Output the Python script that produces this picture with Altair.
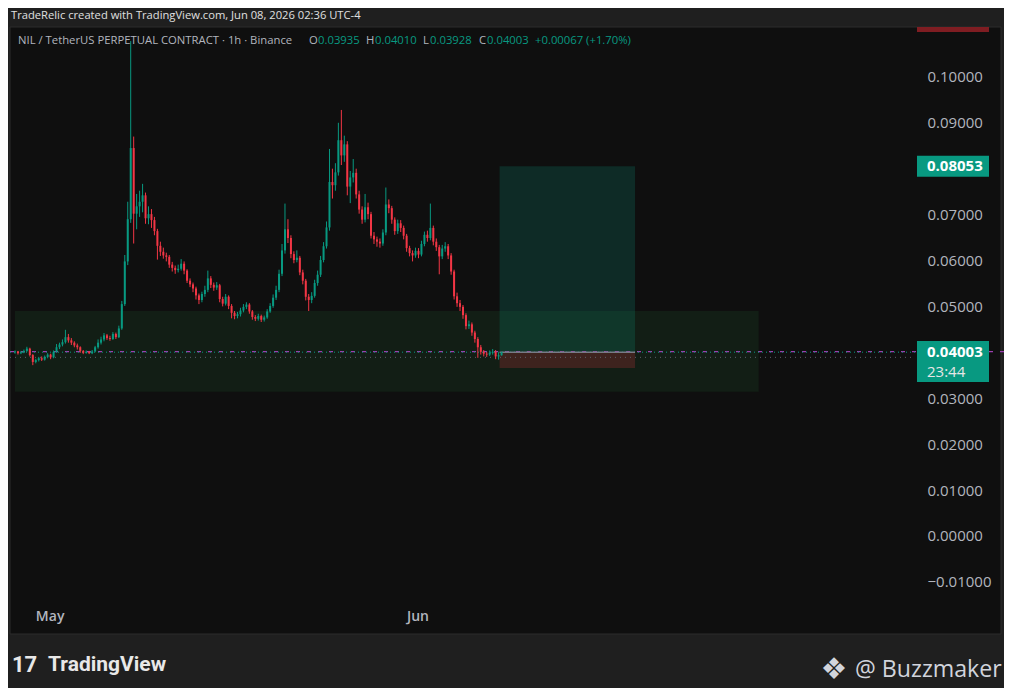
import altair as alt
import pandas as pd

# ---------------- data ----------------
first_open = 0.0400
closes = [0.0402,0.0398,0.0400,0.0403,0.0408,0.0394,0.0379,0.0383,0.0387,0.0384,
0.0390,0.0395,0.0389,0.0401,0.0411,0.0417,0.0422,0.0433,0.0426,0.0421,
0.0415,0.0411,0.0403,0.0399,0.0401,0.0398,0.0402,0.0411,0.0421,0.0428,
0.0437,0.0431,0.0429,0.0440,0.0433,0.0452,0.0505,0.0598,0.0690,0.0845,
0.0702,0.0718,0.0728,0.0742,0.0692,0.0701,0.0688,0.0664,0.0632,0.0619,
0.0611,0.0608,0.0591,0.0584,0.0579,0.0582,0.0593,0.0578,0.0556,0.0548,
0.0539,0.0524,0.0514,0.0527,0.0536,0.0561,0.0547,0.0541,0.0546,0.0516,
0.0506,0.0521,0.0501,0.0486,0.0479,0.0483,0.0491,0.0499,0.0504,0.0489,
0.0477,0.0473,0.0479,0.0471,0.0476,0.0489,0.0501,0.0519,0.0536,0.0571,
0.0622,0.0668,0.0649,0.0614,0.0601,0.0606,0.0574,0.0556,0.0521,0.0514,
0.0523,0.0551,0.0569,0.0601,0.0631,0.0672,0.0771,0.0764,0.0792,0.0862,
0.0829,0.0853,0.0761,0.0781,0.0791,0.0744,0.0711,0.0689,0.0716,0.0701,
0.0654,0.0646,0.0641,0.0637,0.0661,0.0722,0.0714,0.0689,0.0664,0.0681,
0.0671,0.0654,0.0627,0.0616,0.0611,0.0621,0.0613,0.0636,0.0656,0.0649,
0.0671,0.0641,0.0629,0.0609,0.0626,0.0631,0.0611,0.0576,0.0522,0.0507,
0.0499,0.0481,0.0457,0.0461,0.0443,0.0429,0.0411,0.0401,0.0397,0.0395,
0.0399,0.0401,0.0391,0.03935,0.04003]
highs = [0.0404,0.0403,0.0403,0.0406,0.0412,0.0410,0.0396,0.0386,0.0390,0.0391,
0.0393,0.0398,0.0397,0.0404,0.0418,0.0421,0.0428,0.0449,0.0440,0.0431,
0.0424,0.0419,0.0413,0.0405,0.0404,0.0403,0.0405,0.0414,0.0428,0.0434,
0.0442,0.0440,0.0436,0.0444,0.0443,0.0458,0.0512,0.0612,0.0728,0.1078,
0.0870,0.0745,0.0752,0.0767,0.0748,0.0718,0.0712,0.0695,0.0669,0.0641,
0.0628,0.0617,0.0612,0.0597,0.0589,0.0591,0.0603,0.0598,0.0581,0.0561,
0.0552,0.0543,0.0528,0.0532,0.0545,0.0578,0.0566,0.0552,0.0553,0.0549,
0.0521,0.0527,0.0524,0.0505,0.0490,0.0488,0.0497,0.0505,0.0509,0.0507,
0.0492,0.0481,0.0484,0.0482,0.0480,0.0494,0.0507,0.0526,0.0545,0.0580,
0.0636,0.0724,0.0690,0.0655,0.0620,0.0622,0.0610,0.0580,0.0560,0.0527,
0.0531,0.0558,0.0578,0.0610,0.0640,0.0685,0.0843,0.0800,0.0812,0.0900,
0.0928,0.0872,0.0860,0.0795,0.0821,0.0800,0.0752,0.0718,0.0745,0.0726,
0.0706,0.0662,0.0652,0.0648,0.0668,0.0759,0.0733,0.0719,0.0694,0.0689,
0.0688,0.0676,0.0658,0.0632,0.0622,0.0628,0.0627,0.0643,0.0663,0.0665,
0.0724,0.0676,0.0648,0.0634,0.0634,0.0640,0.0636,0.0616,0.0580,0.0530,
0.0514,0.0503,0.0485,0.0469,0.0465,0.0447,0.0433,0.0416,0.0405,0.0401,
0.0404,0.0407,0.0405,0.0399,0.04010]
lows = [0.0397,0.0395,0.0396,0.0398,0.0401,0.0391,0.0372,0.0376,0.0380,0.0381,
0.0382,0.0387,0.0385,0.0387,0.0399,0.0407,0.0413,0.0419,0.0421,0.0416,
0.0411,0.0406,0.0399,0.0396,0.0397,0.0396,0.0396,0.0400,0.0408,0.0417,
0.0424,0.0427,0.0425,0.0427,0.0429,0.0431,0.0449,0.0501,0.0590,0.0682,
0.0637,0.0668,0.0695,0.0705,0.0680,0.0679,0.0671,0.0655,0.0602,0.0610,
0.0604,0.0598,0.0584,0.0576,0.0571,0.0574,0.0578,0.0570,0.0551,0.0542,
0.0531,0.0515,0.0505,0.0509,0.0521,0.0531,0.0540,0.0534,0.0536,0.0509,
0.0500,0.0502,0.0494,0.0474,0.0472,0.0474,0.0478,0.0487,0.0494,0.0484,
0.0471,0.0468,0.0469,0.0466,0.0467,0.0473,0.0486,0.0497,0.0514,0.0531,
0.0566,0.0615,0.0638,0.0605,0.0594,0.0596,0.0568,0.0548,0.0513,0.0490,
0.0507,0.0519,0.0545,0.0564,0.0596,0.0626,0.0665,0.0735,0.0752,0.0785,
0.0808,0.0815,0.0742,0.0725,0.0770,0.0735,0.0702,0.0680,0.0683,0.0690,
0.0648,0.0636,0.0630,0.0628,0.0632,0.0655,0.0703,0.0680,0.0656,0.0658,
0.0662,0.0646,0.0619,0.0609,0.0598,0.0606,0.0605,0.0609,0.0631,0.0641,
0.0644,0.0633,0.0621,0.0570,0.0603,0.0619,0.0603,0.0569,0.0515,0.0499,
0.0490,0.0473,0.0450,0.0451,0.0436,0.0421,0.0388,0.0395,0.0391,0.0390,
0.0392,0.0395,0.0385,0.0384,0.03928]

y_ticks = [-0.01, 0.0, 0.01, 0.02, 0.03, 0.05, 0.06, 0.07, 0.09, 0.10]
last_price = 0.04003
target_price = 0.08053
stop_price = 0.0366
top_badge_price = 0.11033
prev_line_price = 0.04013
grey_line_price = 0.0389
zone_low, zone_high = 0.0314, 0.0490
zone_end = "2026-06-29T18:00:00Z"
pos_start, pos_end = "2026-06-07T22:00:00Z", "2026-06-19T08:00:00Z"
chart_start = "2026-04-28T02:00:00Z"

# ---------------- build table ----------------
t0 = pd.Timestamp("2026-04-28T02:00:00Z")
times = [(t0 + pd.Timedelta(hours=6 * i)).strftime("%Y-%m-%dT%H:%M:%SZ") for i in range(len(closes))]
opens = [first_open] + closes[:-1]
df = pd.DataFrame({"t": times, "o": opens, "h": highs, "l": lows, "c": closes})
df["dir"] = ["up" if c >= o else "down" for o, c in zip(opens, closes)]

TEAL = "#089981"
RED = "#f23645"
PANE = "#0f0f0f"
BG = "#1f1f1f"
TXT = "#d1d4dc"
FONT = "Open Sans"

W, H = 905, 579
xscale = alt.Scale(type="utc", domain=[
    alt.DateTime(year=2026, month=4, date=28, hours=2, utc=True),
    alt.DateTime(year=2026, month=7, date=12, hours=12, utc=True)])
yscale = alt.Scale(domain=[-0.01527, 0.11087], nice=False, zero=False)
xaxis = alt.Axis(values=[alt.DateTime(year=2026, month=5, date=1, utc=True),
                         alt.DateTime(year=2026, month=6, date=1, utc=True)],
                 format="%b", title=None, ticks=False, domain=False, grid=False,
                 labelColor="#b2b5be", labelFont=FONT, labelFontSize=14, labelFontWeight=600,
                 labelPadding=3, labelFlush=False, zindex=1)
yaxis = alt.Axis(values=y_ticks, format=".5f", orient="right", title=None, ticks=False,
                 domain=False, grid=False, labelColor="#b2b5be", labelFont=FONT,
                 labelFontSize=15, labelAlign="left", labelPadding=12, zindex=1)

one = pd.DataFrame({"a": [0]})

pane = alt.Chart(one).mark_rect(fill=PANE, stroke="#2c2c2c", strokeWidth=1).encode(
    x=alt.value(0), x2=alt.value(991), y=alt.value(0), y2=alt.value(607))

zone = alt.Chart(pd.DataFrame({"t0": [chart_start], "t1": [zone_end],
                               "p0": [zone_low], "p1": [zone_high]})).mark_rect(
    fill="#121e15").encode(x=alt.X("t0:T", scale=xscale, axis=xaxis),
                           x2="t1:T", y=alt.Y("p0:Q", scale=yscale, axis=yaxis), y2="p1:Q")

boxes = alt.Chart(pd.DataFrame({"t0": [pos_start, pos_start], "t1": [pos_end, pos_end],
                                "p0": [last_price, stop_price], "p1": [target_price, last_price],
                                "kind": ["target", "stop"]})).mark_rect(opacity=0.2).encode(
    x="t0:T", x2="t1:T", y="p0:Q", y2="p1:Q",
    fill=alt.Fill("kind:N", scale=alt.Scale(domain=["target", "stop"], range=[TEAL, RED]), legend=None))

teal_line = alt.Chart(one).mark_rule(color=TEAL, strokeDash=[1, 3], strokeWidth=1).encode(
    y=alt.datum(last_price), x=alt.value(0), x2=alt.value(W))
purple_line = alt.Chart(one).mark_rule(color="#9c3fb0", strokeDash=[4, 7], strokeWidth=1.2).encode(
    y=alt.datum(prev_line_price), x=alt.value(0),
    x2=alt.datum(alt.DateTime(year=2026, month=6, date=29, hours=18, utc=True)))
grey_line = alt.Chart(one).mark_rule(color="#5d606b", strokeDash=[1, 4], strokeWidth=1).encode(
    y=alt.datum(grey_line_price), x=alt.value(0), x2=alt.value(W))
entry_line = alt.Chart(one).mark_rule(color="#787b86", strokeWidth=1.5).encode(
    y=alt.datum(last_price),
    x=alt.datum(alt.DateTime(year=2026, month=6, date=7, hours=22, utc=True)),
    x2=alt.datum(alt.DateTime(year=2026, month=6, date=19, hours=8, utc=True)))

cscale = alt.Scale(domain=["up", "down"], range=[TEAL, RED])
wicks = alt.Chart(df).mark_rule(strokeWidth=1).encode(
    x="t:T", y="l:Q", y2="h:Q", color=alt.Color("dir:N", scale=cscale, legend=None))
bodies = alt.Chart(df).mark_bar(size=2).encode(
    x="t:T", y="o:Q", y2="c:Q", color=alt.Color("dir:N", scale=cscale, legend=None))

badge_t = alt.Chart(one).mark_tick(orient="horizontal", thickness=21, size=72, color=TEAL, opacity=1).encode(
    y=alt.datum(target_price), x=alt.value(943))
badge_t_txt = alt.Chart(one).mark_text(text="0.08053", align="left", baseline="middle", color="white",
                                       font=FONT, fontSize=15, fontWeight="bold").encode(
    y=alt.datum(target_price), x=alt.value(917))
badge_c = alt.Chart(one).mark_tick(orient="horizontal", thickness=41, size=72, color=TEAL, opacity=1,
                                   yOffset=9.3).encode(y=alt.datum(last_price), x=alt.value(943))
badge_c_txt = alt.Chart(one).mark_text(text="0.04003", align="left", baseline="middle", color="white",
                                       font=FONT, fontSize=15, fontWeight="bold").encode(
    y=alt.datum(last_price), x=alt.value(917))
badge_c_txt2 = alt.Chart(one).mark_text(text="23:44", align="left", baseline="middle", color="#e6e6e6",
                                        font=FONT, fontSize=15, yOffset=20).encode(
    y=alt.datum(last_price), x=alt.value(917))
badge_top = alt.Chart(one).mark_tick(orient="horizontal", thickness=5, size=72, color="#7f1d22", opacity=1).encode(
    y=alt.datum(top_badge_price), x=alt.value(943))


def txt(s, x, y, size=12, color=TXT, weight="normal", font=FONT, align="left"):
    return alt.Chart(one).mark_text(text=s, align=align, baseline="middle", color=color,
                                    fontSize=size, fontWeight=weight, font=font).encode(
        x=alt.value(x), y=alt.value(y))


HS = 11.3
header = [
    txt("TradeRelic created with TradingView.com, Jun 08, 2026 02:36 UTC-4", 1, -11, 11.2, "#e0e0e0"),
    txt("NIL / TetherUS PERPETUAL CONTRACT · 1h · Binance", 8, 14, HS, "#b2b5be"),
    txt("O", 299, 14, HS, "#b2b5be"), txt("0.03935", 308, 14, HS, TEAL),
    txt("H", 356, 14, HS, "#b2b5be"), txt("0.04010", 365, 14, HS, TEAL),
    txt("L", 413, 14, HS, "#b2b5be"), txt("0.03928", 420, 14, HS, TEAL),
    txt("C", 469, 14, HS, "#b2b5be"), txt("0.04003", 477, 14, HS, TEAL),
    txt("+0.00067 (+1.70%)", 525, 14, HS, TEAL),
    txt("17", 2, 638, 22, "#e8e8e8", "bold", "Roboto"),
    txt("TradingView", 38, 638, 21, "#e8e8e8", "bold", "Roboto"),
    txt("❖", 824, 643, 30, "#d1d4dc", "normal", "DejaVu Sans", "center"),
    txt("@ Buzzmaker", 845, 643, 23.2, "#d1d4dc", "normal", FONT),
]

chart = alt.layer(
    pane, zone, boxes, grey_line, purple_line, teal_line, entry_line, wicks, bodies,
    badge_top, badge_t, badge_t_txt, badge_c, badge_c_txt, badge_c_txt2, *header
).resolve_scale(fill="independent").properties(
    width=W, height=H,
    autosize=alt.AutoSizeParams(type="none"),
    padding={"left": 2, "top": 19, "right": 89, "bottom": 82},
).configure(background=BG).configure_view(strokeWidth=0)

chart.save("out.html", embed_options={"renderer": "svg", "actions": False})
